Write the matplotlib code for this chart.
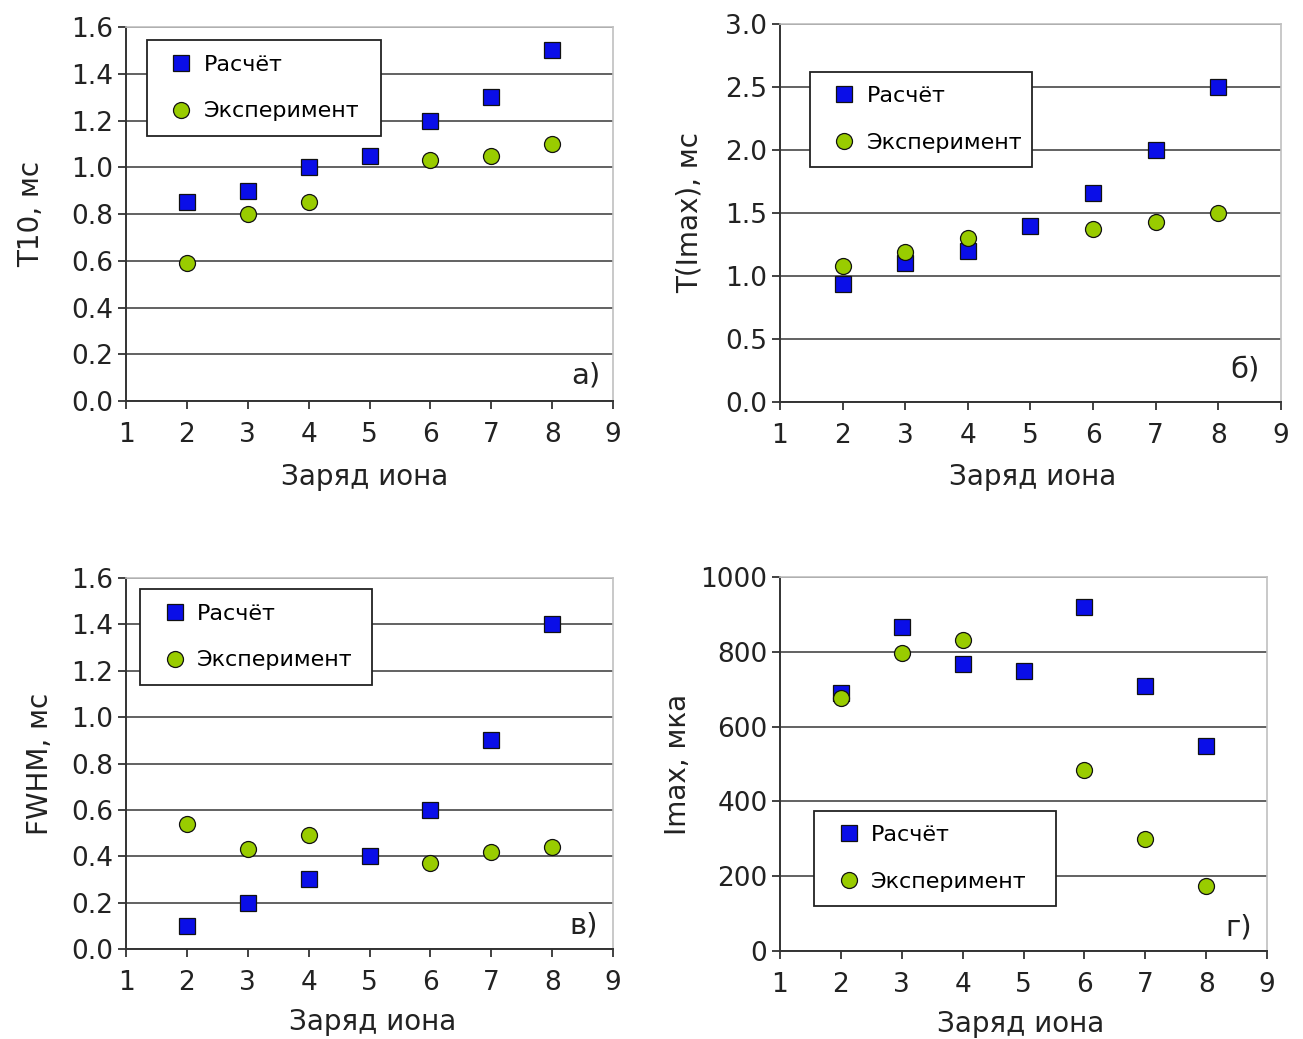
import matplotlib
matplotlib.use("Agg")
import matplotlib.pyplot as plt
from matplotlib.lines import Line2D

# Ion charge (x) shared by all panels
charge_calc = [2, 3, 4, 5, 6, 7, 8]
charge_exp = [2, 3, 4, 6, 7, 8]

# a) T10, ms
t10_calc = [0.85, 0.90, 1.00, 1.05, 1.20, 1.30, 1.50]
t10_exp = [0.59, 0.80, 0.85, 1.03, 1.05, 1.10]

# б) T(Imax), ms
timax_calc = [0.94, 1.10, 1.20, 1.40, 1.66, 2.00, 2.50]
timax_exp = [1.08, 1.19, 1.30, 1.37, 1.43, 1.50]

# в) FWHM, ms
fwhm_calc = [0.10, 0.20, 0.30, 0.40, 0.60, 0.90, 1.40]
fwhm_exp = [0.54, 0.43, 0.49, 0.37, 0.42, 0.44]

# г) Imax, uA
imax_calc = [690, 865, 766, 748, 921, 708, 548]
imax_exp = [676, 796, 831, 484, 299, 174]

x_ticks = [1, 2, 3, 4, 5, 6, 7, 8, 9]
legend_labels = ["Расчёт", "Эксперимент"]
x_label = "Заряд иона"

BLUE = "#0a0ee8"
GREEN = "#99cc00"
GRID = "#555555"
FONT = "DejaVu Sans"
INK = "#222222"

fig = plt.figure(figsize=(13.03, 10.39), dpi=100)
fig.patch.set_facecolor("white")

panels = [
    dict(rect=[0.0967, 0.614, 0.3738, 0.360], yc=t10_calc, ye=t10_exp,
         ylim=(0, 1.6), yticks=[0.0, 0.2, 0.4, 0.6, 0.8, 1.0, 1.2, 1.4, 1.6],
         yfmt="{:.1f}", ylabel="T10, мс", tag="а)", tagpos=(0.975, 0.03),
         leg=(0.043, 0.706, 0.481, 0.262), ylab_x=-0.195, xlab=(0.49, -0.203)),
    dict(rect=[0.5986, 0.613, 0.3845, 0.364], yc=timax_calc, ye=timax_exp,
         ylim=(0, 3.0), yticks=[0.0, 0.5, 1.0, 1.5, 2.0, 2.5, 3.0],
         yfmt="{:.1f}", ylabel="T(Imax), мс", tag="б)", tagpos=(0.958, 0.05),
         leg=(0.060, 0.619, 0.443, 0.257), ylab_x=-0.18, xlab=(0.505, -0.198)),
    dict(rect=[0.0967, 0.0866, 0.3738, 0.3571], yc=fwhm_calc, ye=fwhm_exp,
         ylim=(0, 1.6), yticks=[0.0, 0.2, 0.4, 0.6, 0.8, 1.0, 1.2, 1.4, 1.6],
         yfmt="{:.1f}", ylabel="FWHM, мс", tag="в)", tagpos=(0.969, 0.025),
         leg=(0.029, 0.714, 0.476, 0.254), ylab_x=-0.177, xlab=(0.507, -0.197)),
    dict(rect=[0.5986, 0.0847, 0.3738, 0.360], yc=imax_calc, ye=imax_exp,
         ylim=(0, 1000), yticks=[0, 200, 400, 600, 800, 1000],
         yfmt="{:d}", ylabel="Imax, мка", tag="г)", tagpos=(0.969, 0.025),
         leg=(0.070, 0.128, 0.497, 0.238), ylab_x=-0.21, xlab=(0.495, -0.195)),
]

for p in panels:
    ax = fig.add_axes(p["rect"])
    ax.set_xlim(1, 9)
    ax.set_ylim(*p["ylim"])
    ax.set_xticks(x_ticks)
    ax.set_xticklabels([str(v) for v in x_ticks])
    ax.set_yticks(p["yticks"])
    ax.set_yticklabels([p["yfmt"].format(v) for v in p["yticks"]])
    for lbl in ax.get_xticklabels() + ax.get_yticklabels():
        lbl.set_fontfamily(FONT)
        lbl.set_fontsize(19)
        lbl.set_color(INK)
    ax.tick_params(axis="both", direction="out", length=6, width=1.3,
                   color="#333333")
    ax.tick_params(axis="y", pad=3)
    ax.tick_params(axis="x", pad=9)

    ax.yaxis.grid(True, color=GRID, linewidth=1.3)
    ax.xaxis.grid(False)
    ax.set_axisbelow(True)
    for side in ("left", "bottom"):
        ax.spines[side].set_color("#333333")
        ax.spines[side].set_linewidth(1.4)
    for side in ("top", "right"):
        ax.spines[side].set_color("#c0c0c0")
        ax.spines[side].set_linewidth(1.2)

    ax.plot(charge_calc, p["yc"], linestyle="none", marker="s", markersize=11.5,
            markerfacecolor=BLUE, markeredgecolor="#111111", markeredgewidth=0.9,
            zorder=3)
    ax.plot(charge_exp, p["ye"], linestyle="none", marker="o", markersize=11.5,
            markerfacecolor=GREEN, markeredgecolor="#111111", markeredgewidth=0.9,
            zorder=4)

    xl = ax.set_xlabel(x_label, fontfamily=FONT, fontsize=20, color=INK)
    ax.xaxis.set_label_coords(*p["xlab"])
    xl.set_verticalalignment("center")
    yl = ax.set_ylabel(p["ylabel"], fontfamily=FONT, fontsize=20, color=INK)
    ax.yaxis.set_label_coords(p["ylab_x"], 0.5)
    yl.set_verticalalignment("center")

    ax.text(p["tagpos"][0], p["tagpos"][1], p["tag"], transform=ax.transAxes,
            ha="right", va="bottom", fontfamily=FONT, fontsize=21, color=INK)

    handles = [
        Line2D([], [], linestyle="none", marker="s", markersize=11.5,
               markerfacecolor=BLUE, markeredgecolor="#111111",
               markeredgewidth=0.9),
        Line2D([], [], linestyle="none", marker="o", markersize=11.5,
               markerfacecolor=GREEN, markeredgecolor="#111111",
               markeredgewidth=0.9),
    ]
    lx, ly, lw, lh = p["leg"]
    leg = ax.legend(handles, legend_labels, loc="center",
                    bbox_to_anchor=(lx, ly, lw, lh), mode="expand",
                    prop={"family": FONT, "size": 16},
                    frameon=True, fancybox=False, shadow=False,
                    handletextpad=0.1, handlelength=1.8, labelspacing=1.2,
                    borderpad=0.65, borderaxespad=0)
    leg.get_frame().set_edgecolor("#222222")
    leg.get_frame().set_linewidth(1.3)
    leg.get_frame().set_facecolor("white")
    leg.get_frame().set_alpha(1.0)
    leg.set_zorder(5)

fig.savefig("out.png", dpi=100, facecolor="white")
